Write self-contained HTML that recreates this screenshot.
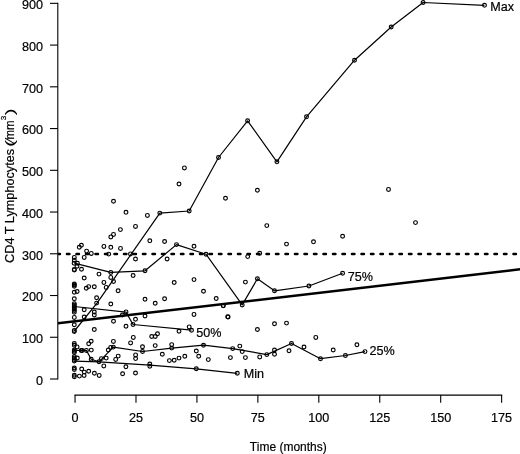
<!DOCTYPE html>
<html><head><meta charset="utf-8"><title>CD4 T Lymphocytes</title>
<style>html,body{margin:0;padding:0;background:#fff}svg{display:block}text{font-family:"Liberation Sans",sans-serif;fill:#000}</style></head><body>
<svg width="520" height="454" viewBox="0 0 520 454">
<rect width="520" height="454" fill="#fff"/>
<defs><clipPath id="c"><rect x="58" y="0" width="462" height="394"/></clipPath></defs>
<g stroke="#000" stroke-width="1.1" fill="none">
<path d="M57.8 3.34 V379.00" stroke-linecap="square"/>
<path d="M50 379.00 H57.8"/>
<path d="M50 337.26 H57.8"/>
<path d="M50 295.52 H57.8"/>
<path d="M50 253.78 H57.8"/>
<path d="M50 212.04 H57.8"/>
<path d="M50 170.30 H57.8"/>
<path d="M50 128.56 H57.8"/>
<path d="M50 86.82 H57.8"/>
<path d="M50 45.08 H57.8"/>
<path d="M50 3.34 H57.8"/>
<path d="M75.05 395.1 H501.63" stroke-linecap="square"/>
<path d="M75.05 395.1 V402.8"/>
<path d="M135.99 395.1 V402.8"/>
<path d="M196.93 395.1 V402.8"/>
<path d="M257.87 395.1 V402.8"/>
<path d="M318.81 395.1 V402.8"/>
<path d="M379.75 395.1 V402.8"/>
<path d="M440.69 395.1 V402.8"/>
<path d="M501.63 395.1 V402.8"/>
</g>
<g font-size="12.6" stroke="#000" stroke-width="0.2">
<text x="43.1" y="384.90" text-anchor="end">0</text>
<text x="43.1" y="343.16" text-anchor="end">100</text>
<text x="43.1" y="301.42" text-anchor="end">200</text>
<text x="43.1" y="259.68" text-anchor="end">300</text>
<text x="43.1" y="217.94" text-anchor="end">400</text>
<text x="43.1" y="176.20" text-anchor="end">500</text>
<text x="43.1" y="134.46" text-anchor="end">600</text>
<text x="43.1" y="92.72" text-anchor="end">700</text>
<text x="43.1" y="50.98" text-anchor="end">800</text>
<text x="43.1" y="9.24" text-anchor="end">900</text>
<text x="75.05" y="422.25" text-anchor="middle">0</text>
<text x="135.99" y="422.25" text-anchor="middle">25</text>
<text x="196.93" y="422.25" text-anchor="middle">50</text>
<text x="257.87" y="422.25" text-anchor="middle">75</text>
<text x="318.81" y="422.25" text-anchor="middle">100</text>
<text x="379.75" y="422.25" text-anchor="middle">125</text>
<text x="440.69" y="422.25" text-anchor="middle">150</text>
<text x="501.63" y="422.25" text-anchor="middle">175</text>
<text transform="translate(288.3,451.2) scale(0.952,1)" text-anchor="middle">Time (months)</text>
<g font-size="12.7">
<text transform="translate(13.6,262.9) rotate(-90)">CD4 T Lymphocytes</text>
<text transform="translate(13.6,146.9) rotate(-90) scale(1.7,1)" stroke="none">(</text>
<text transform="translate(13.6,143) rotate(-90) scale(1.2,1)" font-style="italic" stroke="none">/</text>
<text transform="translate(13.6,139.6) rotate(-90) scale(0.9,1)">mm</text>
<text transform="translate(6.2,120) rotate(-90)" font-size="7.5">3</text>
<text transform="translate(13.6,115.4) rotate(-90) scale(1.7,1)" stroke="none">)</text>
</g>
<text x="490.3" y="10.6">Max</text>
<text x="347.7" y="281.2">75%</text>
<text x="196.3" y="337.1">50%</text>
<text x="369.6" y="354.9">25%</text>
<text x="243.8" y="378.4">Min</text>
</g>
<g clip-path="url(#c)" fill="none" stroke="#000">
<path d="M57.4 254 H521" stroke-width="2.35" stroke-dasharray="2.6 6.9" stroke-linecap="round"/>
<path d="M57 323.4 L521 269.2" stroke-width="2.5"/>
<path d="M74.4 331.0 L97.0 303.2 L159.8 213.1 L189.2 211.0 L218.5 157.5 L247.6 120.8 L276.9 161.8 L306.5 116.8 L354.5 60.2 L391.2 27.0 L423.1 2.5 L484.5 5.3" stroke-width="1.2" stroke-linejoin="round"/>
<path d="M74.3 263.2 L110.8 272.4 L145.0 270.8 L176.5 244.6 L206.0 254.2 L242.2 304.9 L257.4 278.8 L274.5 290.8 L308.9 286.0 L342.6 273.2" stroke-width="1.2" stroke-linejoin="round"/>
<path d="M74.3 306.5 L126.0 312.1 L133.0 324.5 L191.5 330.2" stroke-width="1.2" stroke-linejoin="round"/>
<path d="M74.3 350.5 L86.4 350.4 L91.2 359.2 L99.0 361.8 L113.3 347.1 L142.5 351.5 L171.7 348.1 L203.5 345.2 L232.7 348.6 L266.8 354.6 L291.5 343.5 L320.5 358.7 L345.4 355.5 L365.0 351.6" stroke-width="1.2" stroke-linejoin="round"/>
<path d="M74.3 361.2 L99.0 361.8 L149.8 365.2 L196.3 368.8 L237.3 373.3" stroke-width="1.2" stroke-linejoin="round"/>
<g stroke-width="1.15">
<circle cx="113.5" cy="201.2" r="1.9"/>
<circle cx="126.0" cy="212.3" r="1.9"/>
<circle cx="147.4" cy="215.4" r="1.9"/>
<circle cx="159.8" cy="213.1" r="1.9"/>
<circle cx="135.5" cy="226.4" r="1.9"/>
<circle cx="120.4" cy="229.6" r="1.9"/>
<circle cx="113.5" cy="234.4" r="1.9"/>
<circle cx="110.8" cy="236.9" r="1.9"/>
<circle cx="149.8" cy="240.8" r="1.9"/>
<circle cx="81.4" cy="245.2" r="1.9"/>
<circle cx="79.3" cy="247.2" r="1.9"/>
<circle cx="103.9" cy="246.4" r="1.9"/>
<circle cx="110.8" cy="247.3" r="1.9"/>
<circle cx="120.5" cy="248.4" r="1.9"/>
<circle cx="86.6" cy="251.1" r="1.9"/>
<circle cx="91.3" cy="253.4" r="1.9"/>
<circle cx="108.7" cy="254.1" r="1.9"/>
<circle cx="130.5" cy="253.9" r="1.9"/>
<circle cx="84.2" cy="257.4" r="1.9"/>
<circle cx="135.5" cy="259.0" r="1.9"/>
<circle cx="74.3" cy="257.4" r="1.9"/>
<circle cx="74.3" cy="260.3" r="1.9"/>
<circle cx="74.1" cy="263.3" r="1.9"/>
<circle cx="77.4" cy="263.2" r="1.9"/>
<circle cx="77.0" cy="266.2" r="1.9"/>
<circle cx="74.3" cy="269.4" r="1.9"/>
<circle cx="74.3" cy="270.1" r="1.9"/>
<circle cx="81.5" cy="269.3" r="1.9"/>
<circle cx="99.0" cy="274.1" r="1.9"/>
<circle cx="110.8" cy="272.4" r="1.9"/>
<circle cx="110.8" cy="277.4" r="1.9"/>
<circle cx="133.1" cy="275.5" r="1.9"/>
<circle cx="84.2" cy="278.0" r="1.9"/>
<circle cx="113.5" cy="281.5" r="1.9"/>
<circle cx="103.9" cy="282.4" r="1.9"/>
<circle cx="74.3" cy="284.0" r="1.9"/>
<circle cx="74.3" cy="285.0" r="1.9"/>
<circle cx="74.3" cy="286.2" r="1.9"/>
<circle cx="94.3" cy="286.7" r="1.9"/>
<circle cx="88.7" cy="286.6" r="1.9"/>
<circle cx="86.3" cy="288.3" r="1.9"/>
<circle cx="106.2" cy="287.4" r="1.9"/>
<circle cx="118.1" cy="290.8" r="1.9"/>
<circle cx="77.1" cy="291.5" r="1.9"/>
<circle cx="74.3" cy="292.2" r="1.9"/>
<circle cx="74.3" cy="298.7" r="1.9"/>
<circle cx="96.6" cy="297.8" r="1.9"/>
<circle cx="96.6" cy="303.1" r="1.9"/>
<circle cx="110.8" cy="304.0" r="1.9"/>
<circle cx="74.3" cy="303.6" r="1.9"/>
<circle cx="74.3" cy="305.0" r="1.9"/>
<circle cx="74.3" cy="306.4" r="1.9"/>
<circle cx="74.3" cy="307.8" r="1.9"/>
<circle cx="74.3" cy="309.2" r="1.9"/>
<circle cx="74.3" cy="310.6" r="1.9"/>
<circle cx="74.3" cy="312.2" r="1.9"/>
<circle cx="84.2" cy="309.7" r="1.9"/>
<circle cx="94.3" cy="312.0" r="1.9"/>
<circle cx="94.3" cy="315.0" r="1.9"/>
<circle cx="84.2" cy="317.0" r="1.9"/>
<circle cx="74.3" cy="317.4" r="1.9"/>
<circle cx="74.3" cy="324.7" r="1.9"/>
<circle cx="74.3" cy="330.4" r="1.9"/>
<circle cx="74.3" cy="331.6" r="1.9"/>
<circle cx="126.0" cy="311.9" r="1.9"/>
<circle cx="122.4" cy="315.0" r="1.9"/>
<circle cx="135.5" cy="319.2" r="1.9"/>
<circle cx="113.5" cy="321.2" r="1.9"/>
<circle cx="126.0" cy="326.3" r="1.9"/>
<circle cx="133.0" cy="324.5" r="1.9"/>
<circle cx="94.3" cy="329.5" r="1.9"/>
<circle cx="133.3" cy="337.4" r="1.9"/>
<circle cx="113.4" cy="341.4" r="1.9"/>
<circle cx="130.6" cy="342.9" r="1.9"/>
<circle cx="91.2" cy="341.2" r="1.9"/>
<circle cx="88.7" cy="343.7" r="1.9"/>
<circle cx="74.3" cy="343.5" r="1.9"/>
<circle cx="74.3" cy="345.3" r="1.9"/>
<circle cx="77.1" cy="346.9" r="1.9"/>
<circle cx="113.3" cy="347.1" r="1.9"/>
<circle cx="110.7" cy="347.4" r="1.9"/>
<circle cx="108.3" cy="350.0" r="1.9"/>
<circle cx="91.3" cy="350.1" r="1.9"/>
<circle cx="86.4" cy="350.4" r="1.9"/>
<circle cx="81.2" cy="350.5" r="1.9"/>
<circle cx="82.2" cy="350.5" r="1.9"/>
<circle cx="74.3" cy="350.0" r="1.9"/>
<circle cx="74.3" cy="351.2" r="1.9"/>
<circle cx="74.3" cy="352.4" r="1.9"/>
<circle cx="74.3" cy="356.6" r="1.9"/>
<circle cx="74.3" cy="358.0" r="1.9"/>
<circle cx="74.3" cy="359.4" r="1.9"/>
<circle cx="74.3" cy="361.0" r="1.9"/>
<circle cx="77.3" cy="358.0" r="1.9"/>
<circle cx="91.2" cy="359.2" r="1.9"/>
<circle cx="101.4" cy="358.6" r="1.9"/>
<circle cx="106.2" cy="358.1" r="1.9"/>
<circle cx="118.2" cy="356.1" r="1.9"/>
<circle cx="115.7" cy="359.4" r="1.9"/>
<circle cx="135.6" cy="354.9" r="1.9"/>
<circle cx="135.6" cy="358.6" r="1.9"/>
<circle cx="99.0" cy="361.8" r="1.9"/>
<circle cx="103.8" cy="365.9" r="1.9"/>
<circle cx="125.9" cy="366.7" r="1.9"/>
<circle cx="74.3" cy="368.0" r="1.9"/>
<circle cx="74.3" cy="369.5" r="1.9"/>
<circle cx="81.7" cy="369.0" r="1.9"/>
<circle cx="88.7" cy="371.3" r="1.9"/>
<circle cx="84.3" cy="372.1" r="1.9"/>
<circle cx="94.4" cy="373.3" r="1.9"/>
<circle cx="74.3" cy="375.3" r="1.9"/>
<circle cx="74.3" cy="376.8" r="1.9"/>
<circle cx="79.4" cy="376.1" r="1.9"/>
<circle cx="84.1" cy="375.4" r="1.9"/>
<circle cx="99.2" cy="375.4" r="1.9"/>
<circle cx="122.6" cy="373.8" r="1.9"/>
<circle cx="135.5" cy="373.0" r="1.9"/>
<circle cx="184.4" cy="167.9" r="1.9"/>
<circle cx="179.0" cy="184.0" r="1.9"/>
<circle cx="225.5" cy="198.2" r="1.9"/>
<circle cx="189.2" cy="211.0" r="1.9"/>
<circle cx="218.5" cy="157.5" r="1.9"/>
<circle cx="164.6" cy="241.5" r="1.9"/>
<circle cx="176.5" cy="244.6" r="1.9"/>
<circle cx="194.0" cy="246.2" r="1.9"/>
<circle cx="206.0" cy="254.2" r="1.9"/>
<circle cx="167.1" cy="259.0" r="1.9"/>
<circle cx="145.0" cy="270.8" r="1.9"/>
<circle cx="174.2" cy="282.5" r="1.9"/>
<circle cx="194.0" cy="279.6" r="1.9"/>
<circle cx="203.5" cy="291.3" r="1.9"/>
<circle cx="216.2" cy="298.5" r="1.9"/>
<circle cx="164.6" cy="298.7" r="1.9"/>
<circle cx="145.0" cy="299.3" r="1.9"/>
<circle cx="155.2" cy="303.2" r="1.9"/>
<circle cx="223.3" cy="305.8" r="1.9"/>
<circle cx="194.0" cy="314.4" r="1.9"/>
<circle cx="227.7" cy="316.7" r="1.9"/>
<circle cx="145.0" cy="316.0" r="1.9"/>
<circle cx="189.2" cy="326.9" r="1.9"/>
<circle cx="191.5" cy="330.2" r="1.9"/>
<circle cx="179.0" cy="331.2" r="1.9"/>
<circle cx="157.5" cy="333.7" r="1.9"/>
<circle cx="155.2" cy="336.5" r="1.9"/>
<circle cx="151.7" cy="336.5" r="1.9"/>
<circle cx="142.5" cy="346.8" r="1.9"/>
<circle cx="155.2" cy="345.6" r="1.9"/>
<circle cx="171.7" cy="344.6" r="1.9"/>
<circle cx="171.7" cy="348.1" r="1.9"/>
<circle cx="203.5" cy="345.2" r="1.9"/>
<circle cx="196.3" cy="351.0" r="1.9"/>
<circle cx="162.3" cy="354.2" r="1.9"/>
<circle cx="198.7" cy="356.3" r="1.9"/>
<circle cx="184.8" cy="356.3" r="1.9"/>
<circle cx="179.0" cy="358.1" r="1.9"/>
<circle cx="174.2" cy="360.2" r="1.9"/>
<circle cx="169.4" cy="360.6" r="1.9"/>
<circle cx="208.3" cy="359.6" r="1.9"/>
<circle cx="149.8" cy="364.0" r="1.9"/>
<circle cx="149.8" cy="366.3" r="1.9"/>
<circle cx="196.3" cy="368.8" r="1.9"/>
<circle cx="247.6" cy="120.8" r="1.9"/>
<circle cx="276.9" cy="161.8" r="1.9"/>
<circle cx="306.5" cy="116.8" r="1.9"/>
<circle cx="257.4" cy="190.2" r="1.9"/>
<circle cx="266.8" cy="225.6" r="1.9"/>
<circle cx="286.5" cy="244.1" r="1.9"/>
<circle cx="313.5" cy="241.8" r="1.9"/>
<circle cx="259.7" cy="253.3" r="1.9"/>
<circle cx="247.7" cy="256.6" r="1.9"/>
<circle cx="245.4" cy="282.1" r="1.9"/>
<circle cx="257.4" cy="278.8" r="1.9"/>
<circle cx="274.5" cy="290.8" r="1.9"/>
<circle cx="308.9" cy="286.0" r="1.9"/>
<circle cx="242.2" cy="304.9" r="1.9"/>
<circle cx="223.2" cy="305.6" r="1.9"/>
<circle cx="228.1" cy="316.9" r="1.9"/>
<circle cx="274.5" cy="323.8" r="1.9"/>
<circle cx="286.5" cy="323.1" r="1.9"/>
<circle cx="257.4" cy="329.5" r="1.9"/>
<circle cx="315.8" cy="337.4" r="1.9"/>
<circle cx="291.5" cy="343.5" r="1.9"/>
<circle cx="304.0" cy="347.0" r="1.9"/>
<circle cx="333.2" cy="350.0" r="1.9"/>
<circle cx="239.8" cy="346.1" r="1.9"/>
<circle cx="232.7" cy="348.6" r="1.9"/>
<circle cx="242.2" cy="351.6" r="1.9"/>
<circle cx="274.5" cy="350.0" r="1.9"/>
<circle cx="274.5" cy="354.2" r="1.9"/>
<circle cx="289.0" cy="350.8" r="1.9"/>
<circle cx="266.8" cy="354.6" r="1.9"/>
<circle cx="259.7" cy="356.9" r="1.9"/>
<circle cx="245.4" cy="357.6" r="1.9"/>
<circle cx="230.4" cy="357.6" r="1.9"/>
<circle cx="320.5" cy="358.7" r="1.9"/>
<circle cx="237.3" cy="373.3" r="1.9"/>
<circle cx="354.5" cy="60.2" r="1.9"/>
<circle cx="391.2" cy="27.0" r="1.9"/>
<circle cx="423.1" cy="2.5" r="1.9"/>
<circle cx="484.5" cy="5.3" r="1.9"/>
<circle cx="388.5" cy="189.4" r="1.9"/>
<circle cx="415.5" cy="222.6" r="1.9"/>
<circle cx="342.6" cy="236.2" r="1.9"/>
<circle cx="342.6" cy="273.2" r="1.9"/>
<circle cx="356.9" cy="344.7" r="1.9"/>
<circle cx="345.4" cy="355.5" r="1.9"/>
<circle cx="365.0" cy="351.6" r="1.9"/>
<circle cx="142.5" cy="351.5" r="1.9"/>
</g></g></svg></body></html>
